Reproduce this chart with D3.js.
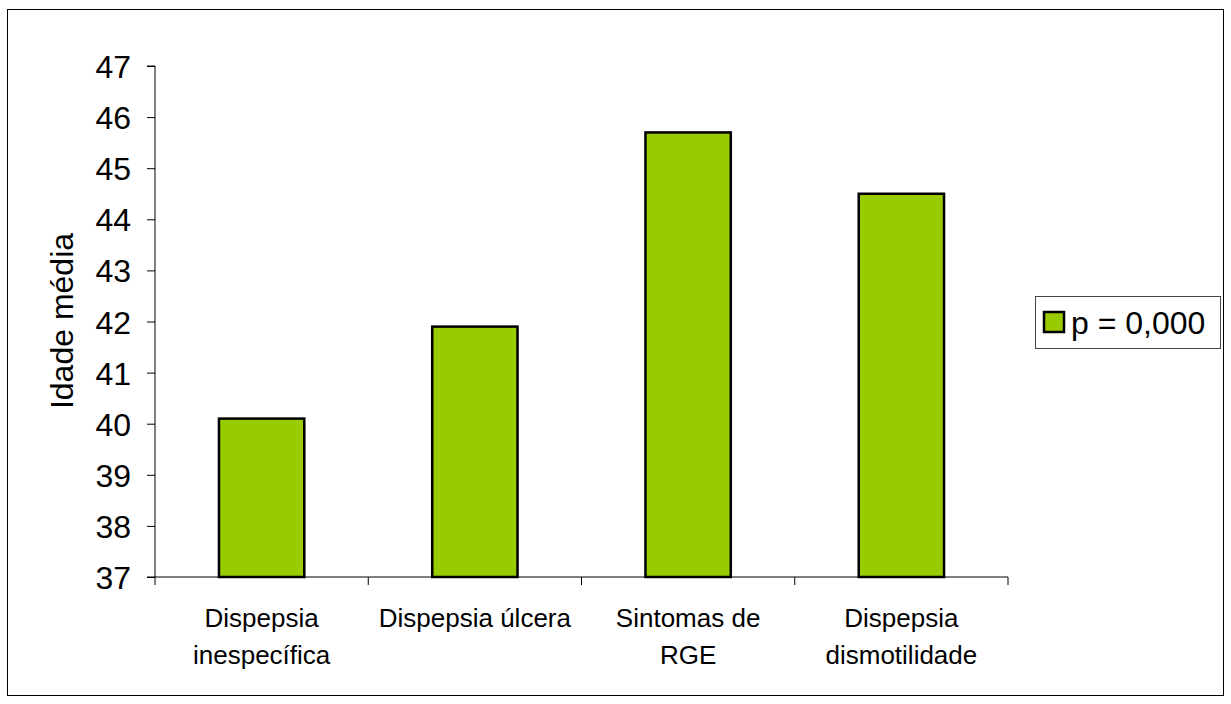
<!DOCTYPE html>
<html><head><meta charset="utf-8">
<script src="https://cdn.jsdelivr.net/npm/d3@7"></script>
<style>body{margin:0;background:#fff}svg{display:block}text{font-family:Arial,"Liberation Sans",sans-serif;fill:#000}</style>
</head><body>
<script>
const categories = [["Dispepsia","inespecífica"],["Dispepsia úlcera"],["Sintomas de","RGE"],["Dispepsia","dismotilidade"]];
const values = [40.1, 41.9, 45.7, 44.5];
const yTicks = [37,38,39,40,41,42,43,44,45,46,47];
const seriesName = "p = 0,000";
const yTitle = "Idade média";

(function(){
const W = 1231, H = 704;
const svg = d3.select("body").append("svg").attr("width", W).attr("height", H);
svg.append("rect").attr("x",7.5).attr("y",9.5).attr("width",1216).attr("height",686).attr("fill","#fff").attr("stroke","#000").attr("stroke-width",1);

const pL = 155, pR = 1008, pT = 66, pB = 577;
const x = d3.scaleBand().domain(d3.range(categories.length)).range([pL, pR]).paddingInner(0.6).paddingOuter(0.3);
const xb = d3.scaleBand().domain(d3.range(categories.length)).range([pL, pR]);
const y = d3.scaleLinear().domain([37,47]).range([pB, pT]);

// bars
svg.selectAll("rect.bar").data(values).join("rect").attr("class","bar")
  .attr("x",(d,i)=>x(i)).attr("width",x.bandwidth())
  .attr("y",d=>y(d)).attr("height",d=>y(37)-y(d))
  .attr("fill","#99CC00").attr("stroke","#000").attr("stroke-width",2.5);

// y axis
const ya = svg.append("g").attr("transform",`translate(${pL},0)`)
  .call(d3.axisLeft(y).tickValues(yTicks).tickSize(8).tickPadding(16).tickFormat(d3.format("d")));
ya.select(".domain").attr("stroke","#000").attr("d",`M-8,${pT}H0V${pB}H-8`);
ya.selectAll("text").attr("font-size",32).attr("dy","0.36em");

// x axis
const xa = svg.append("g").attr("transform",`translate(0,${pB})`);
xa.append("line").attr("x1",pL).attr("x2",pR).attr("stroke","#000");
const bounds = d3.range(categories.length+1).map(i => i<categories.length ? xb(i) : xb(i-1)+xb.bandwidth());
xa.selectAll("line.tk").data(bounds).join("line").attr("class","tk")
  .attr("x1",d=>d).attr("x2",d=>d).attr("y1",0).attr("y2",8).attr("stroke","#000");
const lab = svg.selectAll("text.cat").data(categories).join("text").attr("class","cat")
  .attr("text-anchor","middle").attr("font-size",26)
  .attr("transform",(d,i)=>`translate(${xb(i)+xb.bandwidth()/2},627)`);
lab.selectAll("tspan").data(d=>d).join("tspan").attr("x",0).attr("dy",(d,j)=>j===0?0:37).text(d=>d);

// y title
svg.append("text").attr("transform","translate(73,321) rotate(-90)").attr("text-anchor","middle")
  .attr("font-size",32).text(yTitle);

// legend
svg.append("rect").attr("x",1035.5).attr("y",296.5).attr("width",185).attr("height",52).attr("fill","#fff").attr("stroke","#444");
svg.append("rect").attr("x",1044).attr("y",312).attr("width",20).attr("height",20).attr("fill","#99CC00").attr("stroke","#000").attr("stroke-width",2.5);
svg.append("text").attr("x",1071).attr("y",334).attr("font-size",32).text(seriesName);
})();
</script>
</body></html>
